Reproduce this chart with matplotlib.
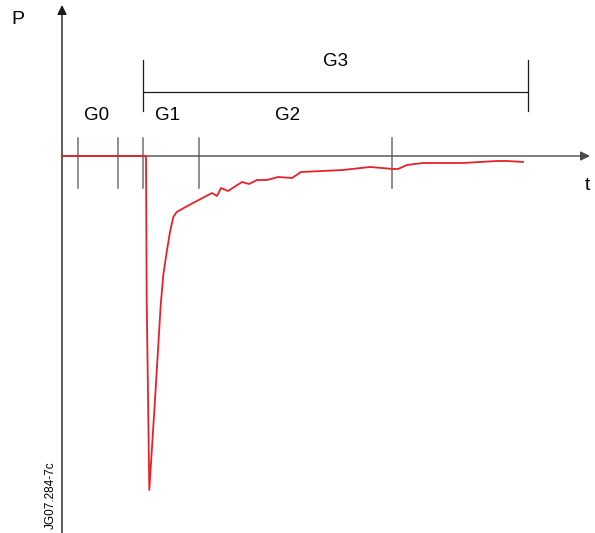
import matplotlib.pyplot as plt

plt.rcParams['font.family'] = ['Liberation Sans', 'DejaVu Sans']

# pressure response P(t), baseline at 0
t_vals = [0, 84, 84.7, 87.3, 93, 98.7, 101.3, 104.7, 108, 111.3, 114.7, 122.3,
          131, 150, 155, 159, 166, 180, 187, 195, 205, 216, 230, 239, 281, 308,
          320, 331, 336, 345, 361, 401, 435, 445, 461]
p_vals = [0, 0, -144, -334, -244, -149, -119, -96, -76, -61, -56, -51.7,
          -47, -37, -40, -32, -35, -26, -28, -24, -24, -21, -22, -16, -14, -11,
          -12, -13, -13, -9, -7, -7, -5, -5, -6]

# phase boundaries on the time axis
tick_t = [16, 56, 81, 137, 330]
phase_labels = ['G0', 'G1', 'G2']
phase_label_t = [35, 106, 226]
g3_span = (81, 466)

fig = plt.figure(figsize=(5.95, 5.33), dpi=100)
ax = fig.add_axes([0, 0, 1, 1])
ax.set_xlim(-62, 533)
ax.set_ylim(-377, 156)
ax.axis('off')

# axes with arrow heads
ax.annotate('', xy=(0, 151), xytext=(0, -377),
            arrowprops=dict(arrowstyle='-|>', color='#1a1a1a', lw=1.0,
                            mutation_scale=14, shrinkA=0, shrinkB=0))
ax.annotate('', xy=(528, 0), xytext=(0, 0),
            arrowprops=dict(arrowstyle='-|>', color='#4a4a4a', lw=1.0,
                            mutation_scale=14, shrinkA=0, shrinkB=0))

for t in tick_t:
    ax.plot([t, t], [18, -32], color='#707070', lw=1.1)

# G3 bracket
ax.plot([g3_span[0], g3_span[1]], [64, 64], color='#1a1a1a', lw=0.9)
for t in g3_span:
    ax.plot([t, t], [96, 45], color='#1a1a1a', lw=0.9)

ax.plot(t_vals, p_vals, color='#e8202a', lw=1.3, solid_joinstyle='round',
        zorder=5)

for lab, t in zip(phase_labels, phase_label_t):
    ax.text(t, 41, lab, fontsize=13.5, ha='center', va='center')
ax.text(273, 94, 'G3', fontsize=13.5, ha='center', va='center')
ax.text(-44, 136, 'P', fontsize=14, ha='center', va='center')
ax.text(525, -29, 't', fontsize=14, ha='center', va='center')
ax.text(-11, -339, 'JG07.284-7c', fontsize=8.5, rotation=90,
        ha='center', va='center')

fig.savefig('out.png', dpi=100)
